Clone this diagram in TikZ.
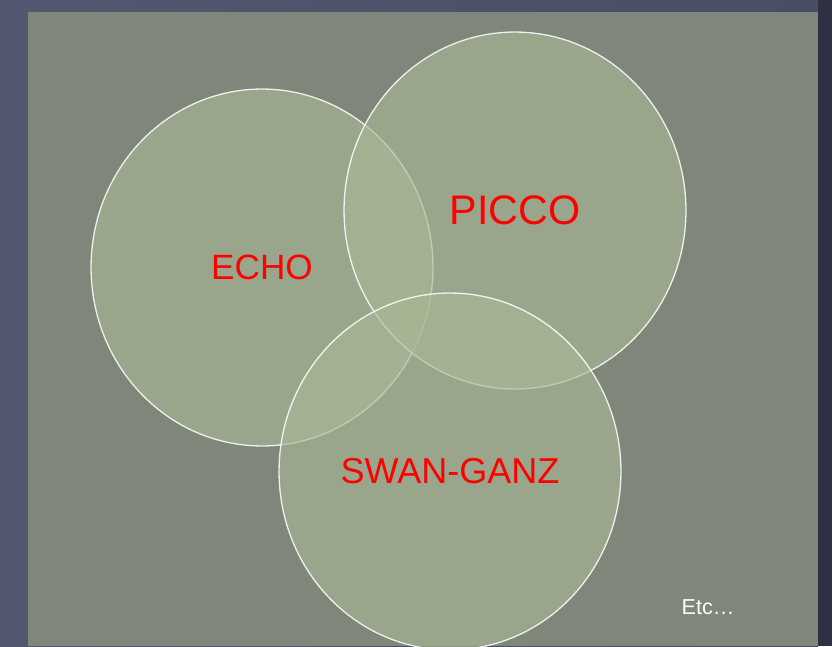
\documentclass[tikz,border=0pt]{standalone}
\usepackage{fontspec}
\setmainfont{Liberation Sans}
\usetikzlibrary{shapes.geometric}
\definecolor{bgL}{HTML}{535870}
\definecolor{bgM}{HTML}{4A4E64}
\definecolor{bgR}{HTML}{2E3142}
\definecolor{panelc}{HTML}{80867A}
\definecolor{vennfill}{HTML}{A7B896}
\tikzset{
  venn/.style={ellipse, inner sep=0pt, minimum width=6.84cm, minimum height=7.14cm,
    fill=vennfill, fill opacity=0.65, draw=white, draw opacity=0.85, line width=0.75pt,
    text=red, text opacity=1},
  etclabel/.style={text=white, inner sep=0pt}
}
\begin{document}
\begin{tikzpicture}[x=0.02cm,y=-0.02cm]
\useasboundingbox (0,0) rectangle (832,646);
\fill[left color=bgL, right color=bgM] (0,0) rectangle (818,646);
\fill[bgR] (818,0) rectangle (832,646);
\fill[panelc] (28,12) rectangle (818,646);
\node[venn, font=\fontsize{20pt}{24pt}\selectfont] (echo) at (262,267.5) {ECHO};
\node[venn, font=\fontsize{23.5pt}{28pt}\selectfont] (picco) at (515,210.5) {PICCO};
\node[venn, font=\fontsize{20.5pt}{24pt}\selectfont] (swan) at (450,471.5) {SWAN-GANZ};
\node[etclabel, font=\fontsize{12.3pt}{15pt}\selectfont] (etc) at (708,607) {Etc…};
\end{tikzpicture}
\end{document}
